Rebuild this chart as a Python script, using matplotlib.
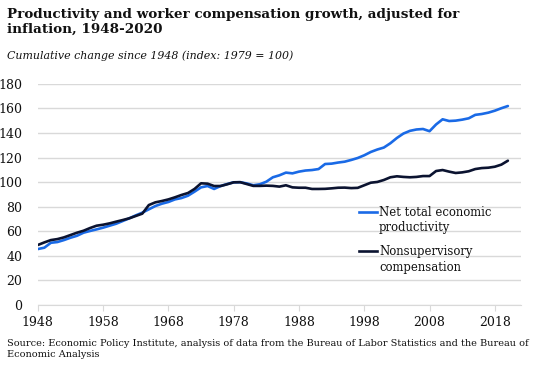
import matplotlib
matplotlib.use("Agg")
import matplotlib.pyplot as plt

plt.rcParams['font.family'] = ['DejaVu Serif']

# 資料 (index: 1979 = 100)
years = list(range(1948, 2021))
productivity = [
    45.6, 46.7, 50.7, 51.3, 52.9, 54.8, 56.4, 58.9, 60.3, 61.6,
    63.0, 64.6, 66.2, 68.4, 70.6, 73.0, 75.2, 77.9, 80.6, 82.5,
    83.9, 86.0, 87.1, 89.0, 92.3, 95.8, 96.9, 94.5, 96.9, 98.5,
    99.9, 100.0, 99.0, 97.5, 98.3, 100.4, 104.0, 105.6, 107.8, 107.2,
    108.6, 109.5, 109.9, 110.7, 114.8, 115.1, 116.0, 116.7, 118.1, 119.7,
    121.9, 124.6, 126.6, 128.2, 131.7, 136.0, 139.6, 141.8, 142.9, 143.3,
    141.5, 147.0, 151.2, 149.8, 150.1, 150.9, 152.0, 154.8, 155.5, 156.6,
    158.2, 160.2, 162.0,
]
compensation = [
    48.9, 51.0, 52.9, 53.7, 55.1, 57.0, 58.9, 60.5, 62.7, 64.6,
    65.4, 66.5, 67.9, 69.2, 70.6, 72.5, 74.4, 81.4, 83.6, 84.7,
    86.0, 87.7, 89.6, 91.2, 94.5, 99.1, 98.8, 96.9, 96.9, 98.3,
    99.9, 100.0, 98.5, 97.0, 97.0, 97.2, 97.0, 96.4, 97.5, 95.8,
    95.5, 95.5, 94.5, 94.5, 94.6, 95.0, 95.5, 95.6, 95.2, 95.4,
    97.5, 99.6, 100.2, 101.8, 104.0, 104.8, 104.3, 104.0, 104.3, 105.0,
    105.0, 109.1, 109.9, 108.6, 107.5, 108.0, 108.9, 110.7, 111.5, 111.8,
    112.6, 114.3, 117.5,
]
x_ticks = list(range(1948, 2019, 10))
y_ticks = list(range(0, 181, 20))

BLUE = '#1a6ae6'
NAVY = '#0b1330'

fig = plt.figure(figsize=(5.38, 3.68), dpi=100)
ax = fig.add_axes([0.0703, 0.171, 0.898, 0.601])

ax.plot(years, productivity, color=BLUE, lw=1.9, solid_capstyle='round')
ax.plot(years, compensation, color=NAVY, lw=1.9, solid_capstyle='round')

ax.set_xlim(1948, 2022)
ax.set_ylim(0, 180)
ax.set_xticks(x_ticks)
ax.set_yticks(y_ticks)
ax.grid(axis='y', color='#d9d9d9', lw=1.0)
ax.set_axisbelow(True)
for s in ['top', 'right', 'left']:
    ax.spines[s].set_visible(False)
ax.spines['bottom'].set_color('#d9d9d9')
ax.tick_params(axis='y', length=0, pad=11, labelsize=9, labelcolor='#111111')
ax.tick_params(axis='x', length=4, color='#d9d9d9', pad=4, labelsize=9, labelcolor='#111111')

# 圖例 (手動)
ax.plot([0.665, 0.702], [0.422, 0.422], color=BLUE, lw=1.9, transform=ax.transAxes)
ax.plot([0.665, 0.702], [0.244, 0.244], color=NAVY, lw=1.9, transform=ax.transAxes)
ax.text(0.706, 0.448, 'Net total economic\nproductivity', transform=ax.transAxes,
        fontsize=8.4, va='top', ha='left', linespacing=1.25, color='#111111')
ax.text(0.706, 0.270, 'Nonsupervisory\ncompensation', transform=ax.transAxes,
        fontsize=8.4, va='top', ha='left', linespacing=1.25, color='#111111')

fig.text(0.013, 0.978, 'Productivity and worker compensation growth, adjusted for\ninflation, 1948-2020',
         fontsize=9.7, fontweight='bold', va='top', ha='left', linespacing=1.15, color='#111111')
fig.text(0.013, 0.848, 'Cumulative change since 1948 (index: 1979 = 100)',
         fontsize=7.9, style='italic', va='center', ha='left', color='#111111')
fig.text(0.013, 0.052, 'Source: Economic Policy Institute, analysis of data from the Bureau of Labor Statistics and the Bureau of\nEconomic Analysis',
         fontsize=7.0, va='center', ha='left', linespacing=1.35, color='#111111')

plt.savefig('out.png', dpi=100)
